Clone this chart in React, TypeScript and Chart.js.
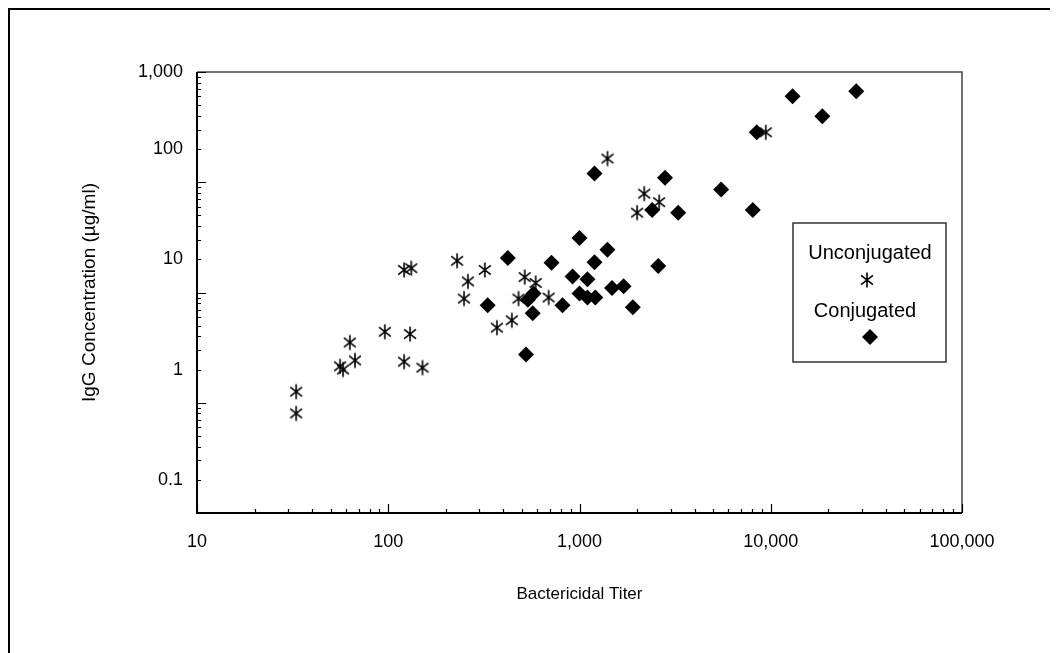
import React, { useEffect, useRef } from "react";
import { Chart, registerables } from "chart.js";

Chart.register(...registerables);

// Unconjugated (asterisks)
const unconjX = [33, 33, 56, 58, 63, 67, 96, 121, 121, 132, 130, 151, 229, 249, 261, 320, 370, 443, 480, 517, 590, 690, 1400, 2000, 2180, 2610, 9420];
const unconjY = [0.63, 0.4, 1.07, 1.0, 1.76, 1.21, 2.2, 1.18, 8.0, 8.3, 2.1, 1.04, 9.7, 4.4, 6.3, 8.0, 2.4, 2.8, 4.4, 6.9, 6.1, 4.5, 82, 26.5, 39.4, 33, 142];

// Conjugated (diamonds)
const conjX = [422, 714, 331, 569, 537, 575, 525, 815, 1000, 1400, 1198, 2580, 920, 1100, 1000, 1100, 1210, 1480, 1700, 1900, 1198, 2800, 2400, 3280, 5500, 8050, 8450, 13000, 18600, 28000];
const conjY = [10.3, 9.3, 3.83, 3.24, 4.3, 4.9, 1.37, 3.83, 15.6, 12.2, 9.4, 8.7, 7.0, 6.6, 4.9, 4.5, 4.5, 5.5, 5.7, 3.67, 60, 55, 28, 26.5, 42.9, 28, 142, 302, 198, 335];

const X_TICKS = [10, 100, 1000, 10000, 100000];
const X_LABELS = ["10", "100", "1,000", "10,000", "100,000"];
const Y_TICKS = [0.1, 1, 10, 100, 500];
const Y_LABELS = ["0.1", "1", "10", "100", "1,000"];
const Y_MIN = 0.05;
const Y_MAX = 500;
const X_MIN = 10;
const X_MAX = 100000;

const SERIES_NAMES = ["Unconjugated", "Conjugated"];
const X_TITLE = "Bactericidal Titer";
const Y_TITLE = "IgG Concentration (µg/ml)";

const FONT = "'Liberation Sans', Arial, sans-serif";

function makeAsterisk(): HTMLCanvasElement {
  const c = document.createElement("canvas");
  c.width = 18;
  c.height = 18;
  const ctx = c.getContext("2d")!;
  ctx.strokeStyle = "#000";
  ctx.lineWidth = 1.6;
  const cx = 9, cy = 9, r = 7.5;
  ctx.beginPath();
  for (const a of [90, 38, 142]) {
    const rad = (a * Math.PI) / 180;
    ctx.moveTo(cx - r * Math.cos(rad), cy - r * Math.sin(rad));
    ctx.lineTo(cx + r * Math.cos(rad), cy + r * Math.sin(rad));
  }
  ctx.stroke();
  return c;
}

export default function App() {
  const ref = useRef<HTMLCanvasElement | null>(null);

  useEffect(() => {
    if (!ref.current) return;
    const asterisk = makeAsterisk();

    const decorPlugin = {
      id: "decor",
      afterDraw(chart: any) {
        const ctx = chart.ctx;
        const { left, right, top, bottom } = chart.chartArea;
        const xs = chart.scales.x;
        const ys = chart.scales.y;
        ctx.save();
        // outer frame (left & top)
        ctx.strokeStyle = "#000";
        ctx.lineWidth = 2;
        ctx.beginPath();
        ctx.moveTo(1, chart.height);
        ctx.lineTo(1, 1);
        ctx.lineTo(chart.width, 1);
        ctx.stroke();

        // plot box top and right
        ctx.strokeStyle = "#444";
        ctx.lineWidth = 1.5;
        ctx.beginPath();
        ctx.moveTo(left, top);
        ctx.lineTo(right, top);
        ctx.lineTo(right, bottom);
        ctx.stroke();

        // axis lines
        ctx.strokeStyle = "#000";
        ctx.lineWidth = 2;
        ctx.beginPath();
        ctx.moveTo(left, top);
        ctx.lineTo(left, bottom);
        ctx.lineTo(right, bottom);
        ctx.stroke();

        // x ticks (inward)
        ctx.lineWidth = 1.2;
        ctx.beginPath();
        for (let d = 1; d <= 5; d++) {
          for (let k = 1; k <= 9; k++) {
            if (d === 5 && k > 1) break;
            const v = k * Math.pow(10, d);
            const px = Math.round(xs.getPixelForValue(v)) + 0.5;
            const len = k === 1 ? 9 : 4;
            ctx.moveTo(px, bottom);
            ctx.lineTo(px, bottom - len);
          }
        }
        // y ticks (inward), majors at 0.05*10^n
        for (let n = -1; n <= 3; n++) {
          for (let k = 1; k <= 9; k++) {
            if (n === 3 && k > 1) break;
            const v = (k * Math.pow(10, n)) / 2;
            const py = Math.round(ys.getPixelForValue(v)) + 0.5;
            const len = k === 1 ? 9 : 4;
            ctx.moveTo(left, py);
            ctx.lineTo(left + len, py);
          }
        }
        ctx.stroke();

        // axis titles
        ctx.fillStyle = "#000";
        ctx.textAlign = "center";
        ctx.textBaseline = "middle";
        ctx.font = `17px ${FONT}`;
        ctx.fillText(X_TITLE, (left + right) / 2, 586);
        ctx.save();
        ctx.translate(82, (top + bottom) / 2);
        ctx.rotate(-Math.PI / 2);
        ctx.font = `19px ${FONT}`;
        ctx.fillText(Y_TITLE, 0, 0);
        ctx.restore();

        // legend box
        ctx.strokeStyle = "#333";
        ctx.lineWidth = 1.5;
        ctx.strokeRect(785, 215, 153, 139);
        ctx.font = `20px ${FONT}`;
        ctx.fillStyle = "#000";
        ctx.fillText(SERIES_NAMES[0], 862, 245);
        ctx.fillText(SERIES_NAMES[1], 857, 303);
        ctx.drawImage(asterisk, 859 - 9, 272 - 9);
        ctx.beginPath();
        ctx.moveTo(862, 329 - 8);
        ctx.lineTo(862 + 8, 329);
        ctx.lineTo(862, 329 + 8);
        ctx.lineTo(862 - 8, 329);
        ctx.closePath();
        ctx.fill();
        ctx.restore();
      },
    };

    const chart = new Chart(ref.current, {
      type: "scatter",
      data: {
        datasets: [
          {
            label: SERIES_NAMES[0],
            data: unconjX.map((x, i) => ({ x, y: unconjY[i] })),
            pointStyle: asterisk as any,
            pointRadius: 8,
            order: 1,
          },
          {
            label: SERIES_NAMES[1],
            data: conjX.map((x, i) => ({ x, y: conjY[i] })),
            pointStyle: "rectRot",
            pointRadius: 8,
            backgroundColor: "#000",
            borderColor: "#000",
            borderWidth: 0,
            order: 0,
          },
        ],
      },
      options: {
        responsive: false,
        animation: false,
        devicePixelRatio: 1,
        layout: { padding: { top: 64, left: 0, right: 96, bottom: 0 } },
        plugins: {
          legend: { display: false },
          tooltip: { enabled: false },
        },
        scales: {
          x: {
            type: "logarithmic",
            min: X_MIN,
            max: X_MAX,
            grid: { display: false, drawTicks: false },
            border: { display: false },
            afterBuildTicks: (scale: any) => {
              scale.ticks = X_TICKS.map((v) => ({ value: v }));
            },
            afterFit: (scale: any) => {
              scale.height = 140;
            },
            ticks: {
              autoSkip: false,
              maxRotation: 0,
              padding: 18,
              color: "#000",
              font: { family: FONT, size: 18 },
              callback: (_v: any, i: number) => X_LABELS[i],
            },
          },
          y: {
            type: "logarithmic",
            min: Y_MIN,
            max: Y_MAX,
            grid: { display: false, drawTicks: false },
            border: { display: false },
            afterBuildTicks: (scale: any) => {
              scale.ticks = Y_TICKS.map((v) => ({ value: v }));
            },
            afterFit: (scale: any) => {
              scale.width = 189;
            },
            ticks: {
              autoSkip: false,
              padding: 14,
              color: "#000",
              font: { family: FONT, size: 18 },
              callback: (_v: any, i: number) => Y_LABELS[i],
            },
          },
        },
      },
      plugins: [decorPlugin],
    } as any);

    return () => chart.destroy();
  }, []);

  return (
    <div style={{ width: 1050, height: 645, overflow: "hidden" }}>
      <canvas ref={ref} width={1050} height={645} style={{ display: "block", width: 1050, height: 645 }} />
    </div>
  );
}
